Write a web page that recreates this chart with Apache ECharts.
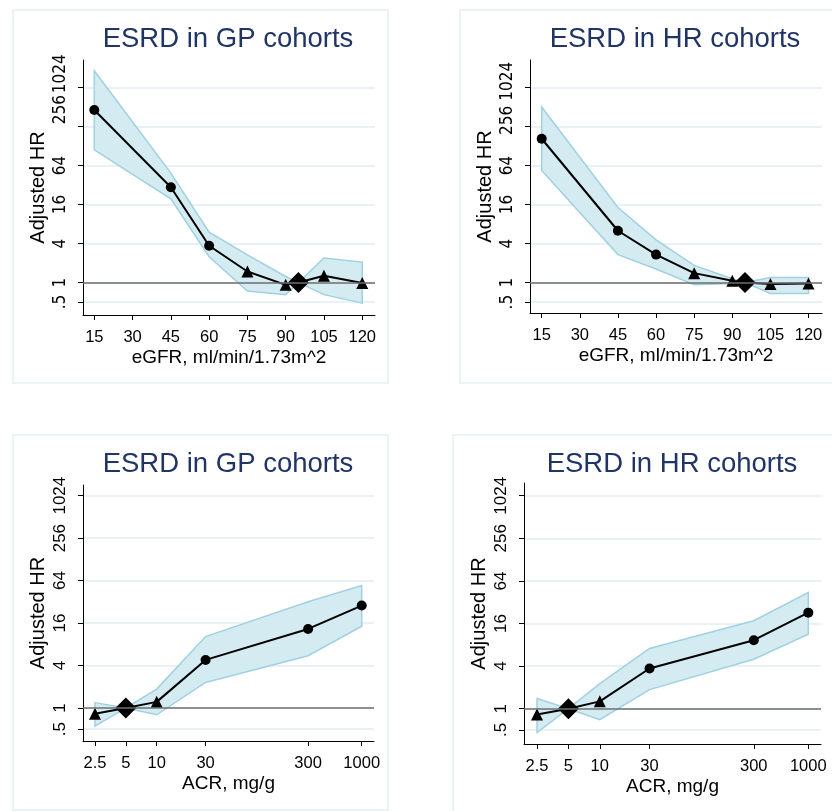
<!DOCTYPE html>
<html>
<head>
<meta charset="utf-8">
<script src="https://cdn.jsdelivr.net/npm/echarts@6/dist/echarts.min.js"></script>
<style>html,body{margin:0;padding:0;background:#fff}#c{width:832px;height:811px}</style>
</head>
<body>
<div id="c"></div>
<script>
// ---- data ----
const egfrX = [15, 45, 60, 75, 90, 95, 105, 120];
const egfrTicks = [15, 30, 45, 60, 75, 90, 105, 120];
const egfrMarks = ['sig', 'sig', 'sig', 'ns', 'ns', 'ref', 'ns', 'ns'];

const gpEgfrHR = [464, 29.7, 3.7, 1.48, 0.92, 1, 1.27, 0.98];
const gpEgfrLo = [112, 19.6, 2.5, 0.74, 0.65, 1, 0.65, 0.48];
const gpEgfrHi = [1870, 49, 6.0, 2.68, 1.24, 1, 2.4, 2.07];

const hrEgfrHR = [165, 6.3, 2.7, 1.4, 1.07, 1, 0.95, 0.97];
const hrEgfrLo = [53.6, 2.7, 1.62, 0.93, 0.97, 1, 0.68, 0.68];
const hrEgfrHi = [508, 14.4, 4.56, 1.84, 1.15, 1, 1.2, 1.2];

const acrX = [2.5, 5, 10, 30, 300, 1000];
const acrTicks = [2.5, 5, 10, 30, 300, 1000];
const acrMarks = ['ns', 'ref', 'ns', 'sig', 'sig', 'sig'];

const gpAcrHR = [0.83, 1, 1.22, 4.8, 13.2, 28.3];
const gpAcrLo = [0.55, 1, 0.8, 2.3, 5.5, 14.4];
const gpAcrHi = [1.19, 1, 1.85, 10.3, 32, 54.5];

const hrAcrHR = [0.83, 1, 1.27, 3.7, 9.3, 22.8];
const hrAcrLo = [0.46, 1, 0.7, 1.86, 5.0, 11.3];
const hrAcrHi = [1.39, 1, 2.26, 7.1, 17.5, 43.8];

const yTicks = [0.5, 1, 4, 16, 64, 256, 1024];
const titles = ['ESRD in GP cohorts', 'ESRD in HR cohorts', 'ESRD in GP cohorts', 'ESRD in HR cohorts'];
const xNames = ['eGFR, ml/min/1.73m^2', 'eGFR, ml/min/1.73m^2', 'ACR, mg/g', 'ACR, mg/g'];
const yName = 'Adjusted HR';

// ---- layout / style ----
const FONT = 'Liberation Sans, Arial, Helvetica, sans-serif';
const NARROW = '"Liberation Sans Narrow", "DejaVu Sans Condensed", "Liberation Sans", sans-serif';
const grids = [
  {left: 83, top: 60, width: 292, height: 255},
  {left: 530, top: 60, width: 292, height: 253},
  {left: 83, top: 485, width: 291, height: 256},
  {left: 524, top: 483, width: 297, height: 261}
];
const xRanges = [[10.57, 125], [10.4, 125.3], [1.91, 1318], [1.875, 1324]];
const yRanges = [[0.315, 2740], [0.34, 2700], [0.34, 1450], [0.317, 1550]];
const titlePos = [[228, 25], [675, 25], [228, 450], [672, 450]];
const frames = [[13, 10, 375, 373], [460, 10, 400, 373], [13, 435, 375, 375], [453, 435, 400, 400]];
// y tick label look per panel: font, size, upward shift (px) of some labels
const yLabelFont = [[NARROW, 17], [NARROW, 17], [FONT, 17], [FONT, 17]];
const yLabelShift = [{'1024': 14, '256': 17}, {'1024': 6, '256': 6}, {}, {}];

const panels = [
  {x: egfrX, hr: gpEgfrHR, lo: gpEgfrLo, hi: gpEgfrHi, marks: egfrMarks, ticks: egfrTicks, log: false},
  {x: egfrX, hr: hrEgfrHR, lo: hrEgfrLo, hi: hrEgfrHi, marks: egfrMarks, ticks: egfrTicks, log: false},
  {x: acrX, hr: gpAcrHR, lo: gpAcrLo, hi: gpAcrHi, marks: acrMarks, ticks: acrTicks, log: true},
  {x: acrX, hr: hrAcrHR, lo: hrAcrLo, hi: hrAcrHi, marks: acrMarks, ticks: acrTicks, log: true}
];

const symbolFor = {sig: ['circle', 10], ns: ['triangle', 12], ref: ['diamond', 21]};

function fmtY(v) {
  if (Math.abs(v - 0.5) < 1e-6) return '.5';
  return String(Math.round(v));
}
function fmtX(v) {
  const r = Math.round(v * 10) / 10;
  return String(r);
}

const xAxes = [], yAxes = [], series = [];
panels.forEach((p, i) => {
  const lf = yLabelFont[i];
  const rich = {};
  Object.keys(yLabelShift[i]).forEach(k => {
    const sh = yLabelShift[i][k];
    rich['p' + sh] = {fontFamily: lf[0], fontSize: lf[1], color: '#000', padding: [0, 0, 0, sh * 2]};
  });
  xAxes.push({
    gridIndex: i,
    type: p.log ? 'log' : 'value',
    logBase: 10,
    min: xRanges[i][0], max: xRanges[i][1],
    name: xNames[i], nameLocation: 'middle', nameGap: 33,
    nameTextStyle: {fontFamily: FONT, fontSize: 19, color: '#000'},
    axisLine: {onZero: false, lineStyle: {color: '#000', width: 1}},
    axisTick: {show: true, length: 5, lineStyle: {color: '#000'}, customValues: p.ticks},
    axisLabel: {fontFamily: FONT, fontSize: 16.5, color: '#000', margin: 14, customValues: p.ticks, formatter: fmtX, hideOverlap: false},
    splitLine: {show: false},
    minorTick: {show: false}
  });
  yAxes.push({
    gridIndex: i,
    type: 'log', logBase: 2,
    min: yRanges[i][0], max: yRanges[i][1],
    name: yName, nameLocation: 'middle', nameGap: 35, nameRotate: 90,
    nameTextStyle: {fontFamily: FONT, fontSize: 20, color: '#000'},
    axisLine: {show: true, onZero: false, lineStyle: {color: '#000', width: 1}},
    axisTick: {show: true, length: 5, lineStyle: {color: '#000'}, customValues: yTicks},
    axisLabel: {
      fontFamily: lf[0], fontSize: lf[1], color: '#000', rotate: 90, margin: 14,
      customValues: yTicks, hideOverlap: false, rich: rich,
      formatter: function (v) {
        const s = fmtY(v);
        const sh = yLabelShift[i][s];
        return sh ? '{p' + sh + '|' + s + '}' : s;
      }
    },
    splitLine: {show: true, lineStyle: {color: '#e0edf2', width: 1.5}}
  });
  // reference line at HR = 1
  series.push({
    type: 'line', xAxisIndex: i, yAxisIndex: i, z: 1, data: [], silent: true,
    markLine: {
      silent: true, symbol: ['none', 'none'], label: {show: false},
      lineStyle: {color: '#6e6e6e', width: 1.5, type: 'solid'},
      data: [{yAxis: 1}]
    }
  });
  // confidence band
  series.push({
    type: 'custom', xAxisIndex: i, yAxisIndex: i, z: 2, silent: true,
    data: p.x.map((x, k) => [x, p.lo[k], p.hi[k]]),
    encode: {x: 0, y: [1, 2]},
    renderItem: function (params, api) {
      if (params.dataIndex !== 0) return null;
      const pts = [];
      for (let k = 0; k < p.x.length; k++) pts.push(api.coord([p.x[k], p.hi[k]]));
      for (let k = p.x.length - 1; k >= 0; k--) pts.push(api.coord([p.x[k], p.lo[k]]));
      return {type: 'polygon', shape: {points: pts},
        style: {fill: '#d5ebf2', stroke: '#a0d1e0', lineWidth: 1.5}};
    }
  });
  // estimate line
  series.push({
    type: 'line', xAxisIndex: i, yAxisIndex: i, z: 3, silent: true,
    lineStyle: {color: '#000', width: 2},
    itemStyle: {color: '#000'},
    data: p.x.map((x, k) => ({
      value: [x, p.hr[k]],
      symbol: symbolFor[p.marks[k]][0],
      symbolSize: symbolFor[p.marks[k]][1]
    }))
  });
});

const option = {
  animation: false,
  backgroundColor: '#fff',
  textStyle: {fontFamily: FONT},
  title: titles.map((t, i) => ({
    text: t, left: titlePos[i][0], top: titlePos[i][1], textAlign: 'center', padding: 0,
    textStyle: {fontFamily: FONT, fontSize: 27.5, fontWeight: 'normal', color: '#213466'}
  })),
  graphic: frames.map(f => ({
    type: 'rect', z: -1, silent: true,
    shape: {x: f[0], y: f[1], width: f[2], height: f[3]},
    style: {fill: 'none', stroke: '#e3eff3', lineWidth: 1.5}
  })),
  grid: grids.map(g => Object.assign({containLabel: false}, g)),
  xAxis: xAxes,
  yAxis: yAxes,
  series: series
};

const chart = echarts.init(document.getElementById('c'), null, {renderer: 'canvas'});
chart.setOption(option);
</script>
</body>
</html>
